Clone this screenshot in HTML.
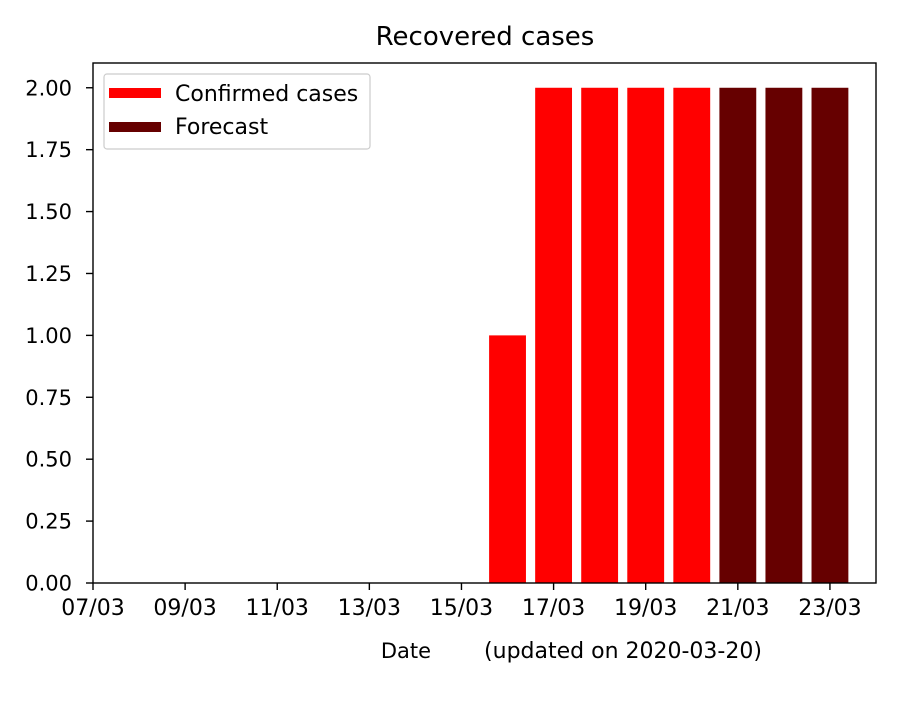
<!DOCTYPE html>
<html><head><meta charset="utf-8"><style>
body{margin:0;background:#fff;font-family:"Liberation Sans","DejaVu Sans",sans-serif;}
svg text{font-family:"DejaVu Sans","Liberation Sans",sans-serif;}
</style></head><body>
<svg id="chart" width="900" height="700">
<rect width="900" height="700" fill="#fff"/>
<text x="485" y="45" font-size="26" text-anchor="middle">Recovered cases</text>
<g id="bars"></g>
<g id="axes"></g>
<text x="406" y="658" font-size="21" text-anchor="middle">Date</text>
<text x="623" y="658" font-size="22" text-anchor="middle">(updated on 2020-03-20)</text>
<g>
<rect x="104" y="74" width="266" height="75" rx="3" fill="#fff" stroke="#ccc" stroke-width="1.2"/>
<rect x="109" y="88" width="52" height="10" fill="#ff0000"/>
<text x="175" y="101" font-size="22">Confirmed cases</text>
<rect x="109" y="122" width="52" height="10" fill="#660000"/>
<text x="175" y="134" font-size="22">Forecast</text>
</g>
</svg>
<script>
const days = [16, 17, 18, 19, 20, 21, 22, 23];
const values = [1, 2, 2, 2, 2, 2, 2, 2];
const isForecast = [false, false, false, false, false, true, true, true];
const yTicks = [0, 0.25, 0.5, 0.75, 1.0, 1.25, 1.5, 1.75, 2.0];
const yTickLabels = ["0.00","0.25","0.50","0.75","1.00","1.25","1.50","1.75","2.00"];
const xTickDays = [7, 9, 11, 13, 15, 17, 19, 21, 23];
const xTickLabels = ["07/03","09/03","11/03","13/03","15/03","17/03","19/03","21/03","23/03"];

const L=93,R=876,T=63,B=583, xMin=7,xMax=24, yMax=2.1;
const xs=d=>L+(d-xMin)/(xMax-xMin)*(R-L);
const ys=v=>B-v/yMax*(B-T);
const NS="http://www.w3.org/2000/svg";
const bars=document.getElementById('bars'), axes=document.getElementById('axes');
function mk(tag,attrs,parent){const e=document.createElementNS(NS,tag);for(const k in attrs)e.setAttribute(k,attrs[k]);parent.appendChild(e);return e;}
const bw=(xs(1)-xs(0))*0.8;
days.forEach((d,i)=>{
  const r=mk('rect',{x:xs(d)-bw/2,y:ys(values[i]),width:bw,height:B-ys(values[i]),fill:isForecast[i]?'#660000':'#ff0000'},bars);
  
  
});
const frame=mk('rect',{x:L,y:T,width:R-L,height:B-T,fill:'none',stroke:'#000','stroke-width':1.4},axes);


yTicks.forEach((v,i)=>{
  mk('line',{x1:L-7,x2:L,y1:ys(v),y2:ys(v),stroke:'#000','stroke-width':1.4},axes);
  const t=mk('text',{x:L-21,y:ys(v)+7.5,'font-size':21,'text-anchor':'end'},axes);
  t.textContent=yTickLabels[i];
  
  
});
xTickDays.forEach((d,i)=>{
  mk('line',{x1:xs(d),x2:xs(d),y1:B,y2:B+7,stroke:'#000','stroke-width':1.4},axes);
  const t=mk('text',{x:xs(d),y:B+32,'font-size':22,'text-anchor':'middle'},axes);
  t.textContent=xTickLabels[i];
  
  
});
</script>
</body></html>
